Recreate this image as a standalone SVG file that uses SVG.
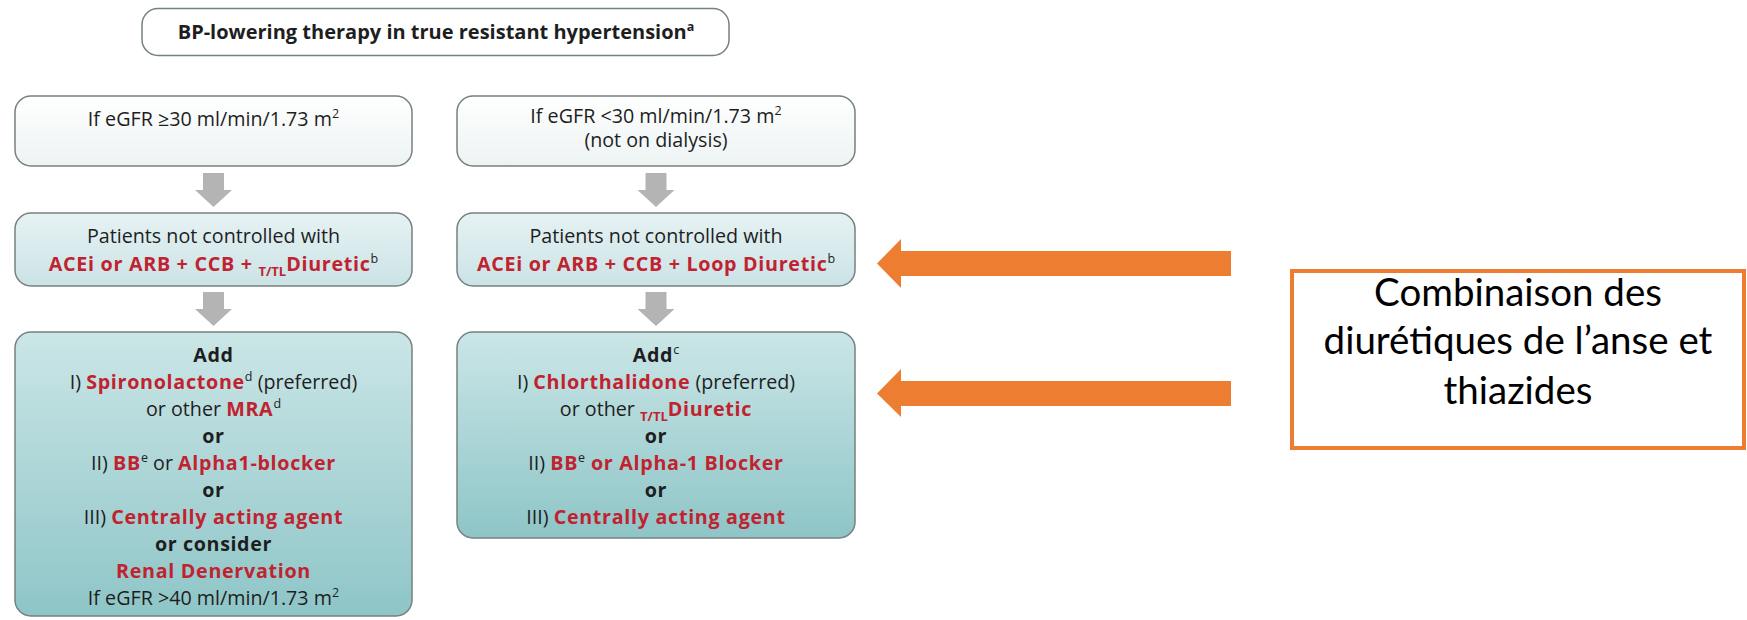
<svg xmlns="http://www.w3.org/2000/svg" width="1747" height="620" viewBox="0 0 1747 620">
<defs>
<linearGradient id="gTop" x1="0" y1="0" x2="0" y2="1"><stop offset="0" stop-color="#ffffff"/><stop offset="1" stop-color="#edf3f3"/></linearGradient>
<linearGradient id="gMid" x1="0" y1="0" x2="0" y2="1"><stop offset="0" stop-color="#e6f2f3"/><stop offset="1" stop-color="#cbe3e6"/></linearGradient>
<linearGradient id="gBot" x1="0" y1="0" x2="0" y2="1"><stop offset="0" stop-color="#cbe6e7"/><stop offset="1" stop-color="#8ec5c7"/></linearGradient>
</defs>
<style>
.box{stroke:#75817f;stroke-width:1.5}
.t{font-family:"Open Sans","Noto Sans",sans-serif;font-size:19.7px;fill:#1e1e1e;text-anchor:middle}
.b{font-weight:bold;letter-spacing:0.6px}
.r{fill:#c0232f;font-weight:bold;letter-spacing:0.7px}
.sup{font-size:12.5px;font-weight:normal;fill:#1e1e1e;letter-spacing:0}
.sub{font-size:13px;letter-spacing:0}
.garrow{fill:#b4b4b4}
.oarrow{fill:#ed7d31}
.fr{font-family:Lato,"Liberation Sans",sans-serif;font-size:38.5px;fill:#000;text-anchor:middle}
</style>

<g id="title">
<rect x="142" y="8.5" width="587" height="47" rx="16" fill="#fff" class="box"/>
<text x="436" y="39" class="t" style="font-size:20px;font-weight:bold">BP-lowering therapy in true resistant hypertension<tspan class="sup" dy="-8" style="font-weight:bold">a</tspan></text>
</g>

<g id="egfr-ge30">
<rect x="15" y="96" width="397" height="70" rx="16" fill="url(#gTop)" class="box"/>
<text x="213.5" y="126" class="t">If eGFR ≥30 ml/min/1.73 m<tspan class="sup" dy="-8">2</tspan></text>
</g>

<g id="egfr-lt30">
<rect x="457" y="96" width="398" height="70" rx="16" fill="url(#gTop)" class="box"/>
<text x="656" y="123" class="t">If eGFR &lt;30 ml/min/1.73 m<tspan class="sup" dy="-8">2</tspan></text>
<text x="656" y="147" class="t">(not on dialysis)</text>
</g>

<g id="uncontrolled-left">
<rect x="15" y="213" width="397" height="73" rx="16" fill="url(#gMid)" class="box"/>
<text x="213.5" y="243" class="t">Patients not controlled with</text>
<text x="213.5" y="271" class="t r">ACEi or ARB + CCB + <tspan class="sub" dy="5">T/TL</tspan><tspan dy="-5">Diuretic</tspan><tspan class="sup" dy="-8">b</tspan></text>
</g>

<g id="uncontrolled-right">
<rect x="457" y="213" width="398" height="73" rx="16" fill="url(#gMid)" class="box"/>
<text x="656" y="243" class="t">Patients not controlled with</text>
<text x="656" y="271" class="t r">ACEi or ARB + CCB + Loop Diuretic<tspan class="sup" dy="-8">b</tspan></text>
</g>

<g id="add-left">
<rect x="15" y="332" width="397" height="284" rx="16" fill="url(#gBot)" class="box"/>
<text x="213.5" y="362" class="t b">Add</text>
<text x="213.5" y="389" class="t">I) <tspan class="r">Spironolactone</tspan><tspan class="sup" dy="-8">d</tspan><tspan dy="8"> (preferred)</tspan></text>
<text x="213.5" y="416" class="t">or other <tspan class="r">MRA</tspan><tspan class="sup" dy="-8">d</tspan></text>
<text x="213.5" y="443" class="t b">or</text>
<text x="213.5" y="470" class="t">II) <tspan class="r">BB</tspan><tspan class="sup" dy="-8">e</tspan><tspan dy="8"> or </tspan><tspan class="r">Alpha1-blocker</tspan></text>
<text x="213.5" y="497" class="t b">or</text>
<text x="213.5" y="524" class="t">III) <tspan class="r">Centrally acting agent</tspan></text>
<text x="213.5" y="551" class="t b">or consider</text>
<text x="213.5" y="578" class="t r">Renal Denervation</text>
<text x="213.5" y="605" class="t">If eGFR &gt;40 ml/min/1.73 m<tspan class="sup" dy="-8">2</tspan></text>
</g>

<g id="add-right">
<rect x="457" y="332" width="398" height="206" rx="16" fill="url(#gBot)" class="box"/>
<text x="656" y="362" class="t b">Add<tspan class="sup" dy="-8">c</tspan></text>
<text x="656" y="389" class="t">I) <tspan class="r">Chlorthalidone</tspan> (preferred)</text>
<text x="656" y="416" class="t">or other <tspan class="r sub" dy="5">T/TL</tspan><tspan class="r" dy="-5">Diuretic</tspan></text>
<text x="656" y="443" class="t b">or</text>
<text x="656" y="470" class="t">II) <tspan class="r">BB</tspan><tspan class="sup" dy="-8">e</tspan><tspan class="r" dy="8"> or Alpha-1 Blocker</tspan></text>
<text x="656" y="497" class="t b">or</text>
<text x="656" y="524" class="t">III) <tspan class="r">Centrally acting agent</tspan></text>
</g>

<g id="note">
<rect x="1292" y="271" width="452" height="177" fill="#fff" stroke="#ed7d31" stroke-width="4"/>
<text x="1518" y="306" class="fr">Combinaison des</text>
<text x="1518" y="354" class="fr">diurétiques de l’anse et</text>
<text x="1518" y="404" class="fr">thiazides</text>
</g>

<g id="connectors">
<polygon class="garrow" points="203,173 224,173 224,190 232,190 213.5,207 195,190 203,190"/>
<polygon class="garrow" points="203,292 224,292 224,309 232,309 213.5,326 195,309 203,309"/>
<polygon class="garrow" points="645.5,173 666.5,173 666.5,190 674.5,190 656,207 637.5,190 645.5,190"/>
<polygon class="garrow" points="645.5,292 666.5,292 666.5,309 674.5,309 656,326 637.5,309 645.5,309"/>
<polygon class="oarrow" points="1231,251 901,251 901,239 877,263.5 901,288 901,276 1231,276"/>
<polygon class="oarrow" points="1231,381 901,381 901,369 877,393.5 901,417 901,406 1231,406"/>
</g>
</svg>
